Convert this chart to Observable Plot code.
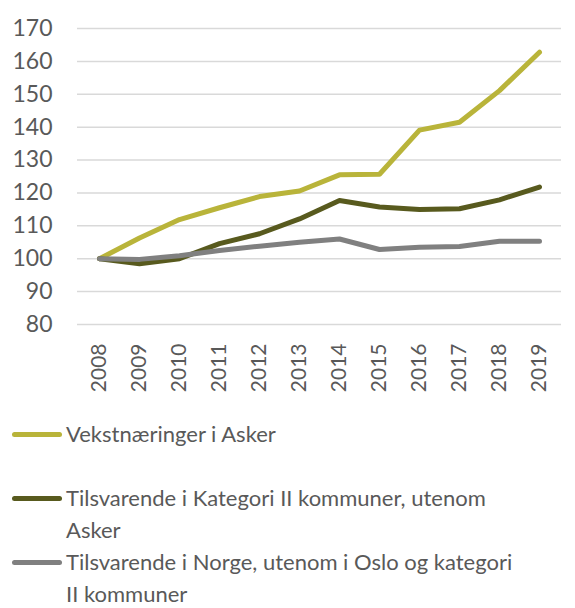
<!DOCTYPE html>
<html>
<head>
<meta charset="utf-8">
<script src="https://cdn.jsdelivr.net/npm/d3@7"></script>
<script src="https://cdn.jsdelivr.net/npm/@observablehq/plot@0.6"></script>
<style>
  body { margin: 0; background: #fff; font-family: Lato, "Open Sans", sans-serif; }
  #wrap { width: 575px; position: relative; }
  .legend { position: relative; margin-top: 13px; color: #595959; font-size: 22px; }
  .item { display: flex; align-items: flex-start; line-height: 32px; }
  .sw { width: 50px; height: 5px; border-radius: 3px; margin: 14px 4px 0 12px; flex: none; }
</style>
</head>
<body>
<div id="wrap"></div>
<script>
const years = ["2008","2009","2010","2011","2012","2013","2014","2015","2016","2017","2018","2019"];
const seriesNames = [
  "Vekstnæringer i Asker",
  "Tilsvarende i Kategori II kommuner, utenom Asker",
  "Tilsvarende i Norge, utenom i Oslo og kategori II kommuner"
];
const legendLines = [
  ["Vekstnæringer i Asker"],
  ["Tilsvarende i Kategori II kommuner, utenom", "Asker"],
  ["Tilsvarende i Norge, utenom i Oslo og kategori", "II kommuner"]
];
const asker = [100, 106.3, 111.9, 115.5, 118.9, 120.6, 125.5, 125.7, 139.1, 141.5, 151.1, 162.8];
const kategori = [100, 98.5, 100.0, 104.6, 107.6, 112.1, 117.7, 115.7, 115.0, 115.2, 117.9, 121.8];
const norge = [100, 99.8, 100.9, 102.5, 103.8, 105.0, 106.0, 102.8, 103.5, 103.7, 105.3, 105.3];
const yTicks = [80, 90, 100, 110, 120, 130, 140, 150, 160, 170];
const colors = ["#b9b43a", "#585a1e", "#808080"];

const allSeries = [asker, kategori, norge];
const data = [];
allSeries.forEach((vals, s) => vals.forEach((v, i) => data.push({year: years[i], value: v, series: seriesNames[s]})));

const chart = Plot.plot({
  width: 575,
  height: 405,
  marginLeft: 77,
  marginRight: 14,
  marginTop: 28,
  marginBottom: 81,
  style: { fontFamily: "Lato, 'Open Sans', sans-serif", color: "#595959", background: "#fff" },
  x: { type: "point", domain: years, padding: 0.5, label: null },
  y: { domain: [80, 170], ticks: yTicks, label: null },
  color: { domain: seriesNames, range: colors },
  marks: [
    Plot.ruleY(yTicks, { stroke: "#d9d9d9", strokeWidth: 1.5 }),
    Plot.axisY({ ticks: yTicks, tickSize: 0, tickPadding: 25, fontSize: 23, label: null }),
    Plot.axisX({ tickSize: 0, tickPadding: 19, tickRotate: -90, fontSize: 21, label: null }),
    Plot.line(data, { x: "year", y: "value", z: "series", stroke: "series", strokeWidth: 5, strokeLinecap: "round", strokeLinejoin: "round" })
  ]
});
const wrap = document.getElementById("wrap");
wrap.appendChild(chart);

const legend = document.createElement("div");
legend.className = "legend";
legendLines.forEach((lines, i) => {
  const item = document.createElement("div");
  item.className = "item";
  if (i === 0) item.style.marginBottom = "32px";
  const sw = document.createElement("div");
  sw.className = "sw";
  sw.style.background = colors[i];
  const txt = document.createElement("div");
  txt.innerHTML = lines.join("<br>");
  item.appendChild(sw);
  item.appendChild(txt);
  legend.appendChild(item);
});
wrap.appendChild(legend);
</script>
</body>
</html>
